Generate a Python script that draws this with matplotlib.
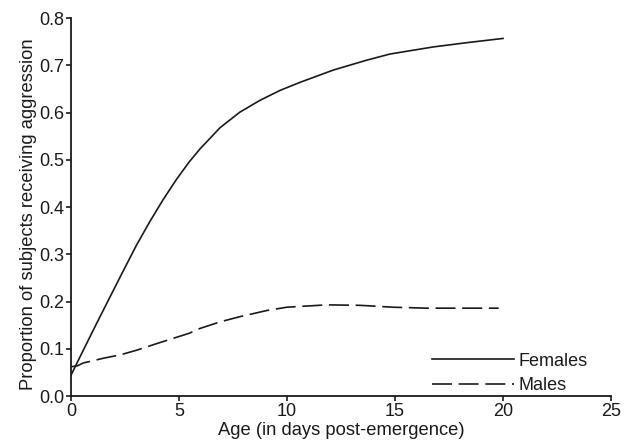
import matplotlib
matplotlib.use("Agg")
import matplotlib.pyplot as plt

plt.rcParams['font.family'] = ['Liberation Sans', 'DejaVu Sans']

# Females
fem_age = [0, 0.57, 1.19, 1.81, 2.42, 3.04, 3.66, 4.27, 4.89, 5.48, 5.97,
           6.9, 7.82, 8.75, 9.68, 10.6, 12.14, 13.69, 14.77, 16.77, 18.32, 20.0]
fem_prop = [0.044, 0.097, 0.154, 0.210, 0.265, 0.320, 0.370, 0.416, 0.459,
            0.496, 0.523, 0.568, 0.601, 0.626, 0.647, 0.664, 0.690, 0.711,
            0.724, 0.739, 0.748, 0.757]

# Males
male_age = [0, 0.3, 0.57, 1.5, 2.27, 3.04, 3.97, 5.0, 5.48, 5.97, 6.9, 7.82,
            9.06, 9.99, 11.84, 13.38, 14.92, 16.47, 19.8]
male_prop = [0.062, 0.064, 0.070, 0.080, 0.087, 0.097, 0.111, 0.126, 0.133,
             0.143, 0.157, 0.168, 0.181, 0.188, 0.193, 0.192, 0.188, 0.186,
             0.186]

fig = plt.figure(figsize=(6.32, 4.42), dpi=100)
ax = fig.add_axes([0.1123, 0.104, 0.8545, 0.855])

ax.plot(fem_age, fem_prop, color='#1a1a1a', lw=1.2, label='Females')
ax.plot(male_age, male_prop, color='#1a1a1a', lw=1.2, dashes=(12, 4),
        label='Males')

ax.set_xlim(0, 25)
ax.set_ylim(0, 0.8)
ax.set_xticks([0, 5, 10, 15, 20, 25])
ax.set_yticks([i / 10 for i in range(9)])
ax.yaxis.set_major_formatter(matplotlib.ticker.FormatStrFormatter('%.1f'))

for s in ['top', 'right']:
    ax.spines[s].set_visible(False)
for s in ['left', 'bottom']:
    ax.spines[s].set_linewidth(1.3)
    ax.spines[s].set_color('#1a1a1a')
ax.tick_params(direction='out', length=3.6, width=1.2, pad=1.5,
               labelsize=13, colors='#1a1a1a')

ax.set_xlabel('Age (in days post-emergence)', fontsize=13.2, labelpad=1.5,
              color='#1a1a1a')
ax.set_ylabel('Proportion of subjects receiving aggression', fontsize=13.2,
              color='#1a1a1a')
ax.yaxis.set_label_coords(-0.062, 0.48)

leg = ax.legend(loc='lower left', bbox_to_anchor=(0.668, 0.005), frameon=False,
                fontsize=13, handlelength=4.55, handletextpad=0.25,
                labelspacing=0.42, borderpad=0, borderaxespad=0)
for t in leg.get_texts():
    t.set_color('#1a1a1a')

fig.savefig('out.png', dpi=100)
